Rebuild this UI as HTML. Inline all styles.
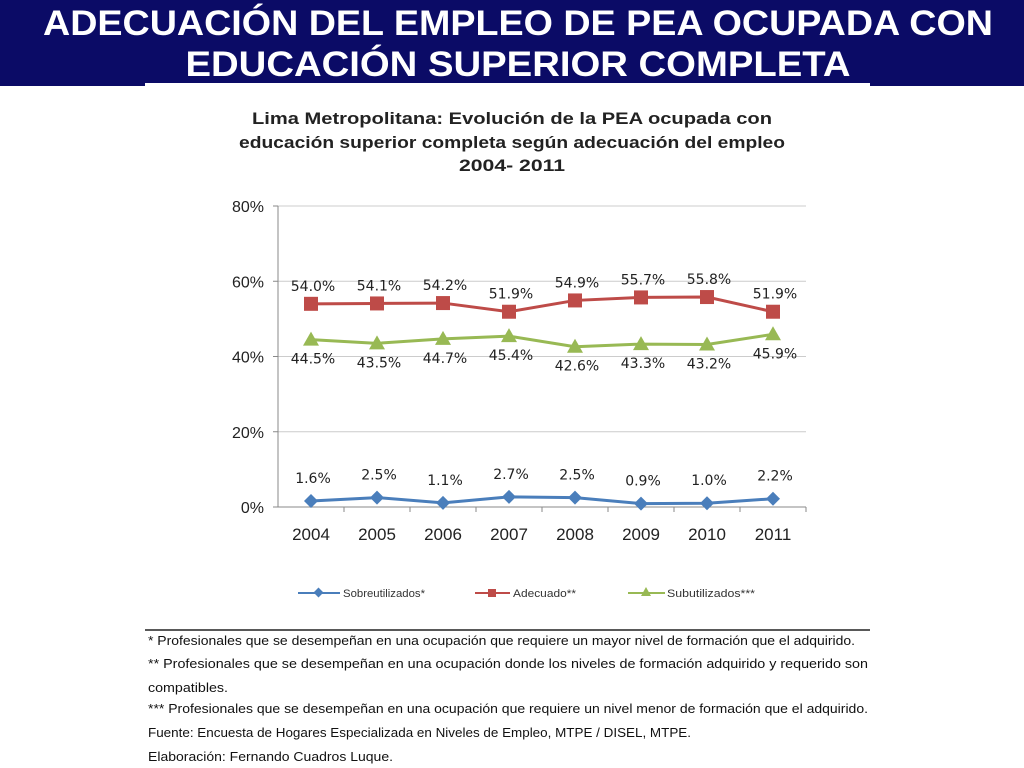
<!DOCTYPE html>
<html><head><meta charset="utf-8"><style>
body{margin:0;width:1024px;height:768px;background:#fff;overflow:hidden;font-family:"Liberation Sans",sans-serif}
svg{position:absolute;left:0;top:0}
</style></head><body>
<svg width="1024" height="768">
<rect x="0" y="0" width="1024" height="86" fill="#0b0b66"/>
<rect x="145" y="83" width="725" height="5" fill="#fff"/>
<g fill="#fff" font-weight="bold" font-size="35" text-anchor="middle">
<text x="518" y="35" textLength="950" lengthAdjust="spacingAndGlyphs">ADECUACIÓN DEL EMPLEO DE PEA OCUPADA CON</text>
<text x="518" y="76" textLength="665" lengthAdjust="spacingAndGlyphs">EDUCACIÓN SUPERIOR COMPLETA</text>
</g>
<g fill="#222" font-weight="bold" font-size="17" text-anchor="middle">
<text x="512" y="124" textLength="520" lengthAdjust="spacingAndGlyphs">Lima Metropolitana: Evolución de la PEA ocupada con</text>
<text x="512" y="148" textLength="546" lengthAdjust="spacingAndGlyphs">educación superior completa según adecuación del empleo</text>
<text x="512" y="171" textLength="106" lengthAdjust="spacingAndGlyphs">2004- 2011</text>
</g>
<g id="chart"></g>
<g font-size="11" fill="#333">
<line x1="298" y1="593" x2="340" y2="593" stroke="#4a7ebb" stroke-width="2"/><rect x="315" y="589" width="7" height="7" fill="#4a7ebb" transform="rotate(45 318.5 592.5)"/>
<text x="343" y="597" textLength="82" lengthAdjust="spacingAndGlyphs">Sobreutilizados*</text>
<line x1="475" y1="593" x2="510" y2="593" stroke="#be4b48" stroke-width="2"/><rect x="488" y="589" width="8" height="8" fill="#be4b48"/>
<text x="513" y="597" textLength="63" lengthAdjust="spacingAndGlyphs">Adecuado**</text>
<line x1="628" y1="593" x2="665" y2="593" stroke="#98b954" stroke-width="2"/><polygon points="646,587 651,596 641,596" fill="#98b954"/>
<text x="667" y="597" textLength="88" lengthAdjust="spacingAndGlyphs">Subutilizados***</text>
</g>
<line x1="145" y1="630" x2="870" y2="630" stroke="#222" stroke-width="1.5"/>
<g font-size="13" fill="#111">
<text x="148" y="645" textLength="707" lengthAdjust="spacingAndGlyphs">* Profesionales que se desempeñan en una ocupación que requiere un mayor nivel de formación que el adquirido.</text>
<text x="148" y="668" textLength="720" lengthAdjust="spacingAndGlyphs">** Profesionales que se desempeñan en una ocupación donde los niveles de formación adquirido y requerido son</text>
<text x="148" y="692" textLength="80" lengthAdjust="spacingAndGlyphs">compatibles.</text>
<text x="148" y="713" textLength="720" lengthAdjust="spacingAndGlyphs">*** Profesionales que se desempeñan en una ocupación que requiere un nivel menor de formación que el adquirido.</text>
<text x="148" y="737" textLength="543" lengthAdjust="spacingAndGlyphs">Fuente: Encuesta de Hogares Especializada en Niveles de Empleo, MTPE / DISEL, MTPE.</text>
<text x="148" y="761" textLength="245" lengthAdjust="spacingAndGlyphs">Elaboración: Fernando Cuadros Luque.</text>
</g>
</svg>
<script>
const years=["2004","2005","2006","2007","2008","2009","2010","2011"];
const sobre=[1.6,2.5,1.1,2.7,2.5,0.9,1.0,2.2];
const adecuado=[54.0,54.1,54.2,51.9,54.9,55.7,55.8,51.9];
const subutil=[44.5,43.5,44.7,45.4,42.6,43.3,43.2,45.9];
const yTicks=[0,20,40,60,80];
const L=278,R=806,T=206,B=507,ymax=80;
const xs=i=>L+(R-L)/years.length*(i+0.5);
const ys=v=>B-(B-T)*v/ymax;
const NS="http://www.w3.org/2000/svg";
const g=document.getElementById('chart');
function mk(t,a,p){const e=document.createElementNS(NS,t);for(const k in a)e.setAttribute(k,a[k]);(p||g).appendChild(e);return e;}
yTicks.forEach(v=>{
 const l=mk('line',{x1:L,x2:R,y1:ys(v),y2:ys(v),stroke:v==0?'#888':'#ccc','stroke-width':1});
 
 
 const t=mk('text',{x:L-14,y:ys(v)+6,'text-anchor':'end','font-size':16,fill:'#222'});t.textContent=v+'%';
 
 
 mk('line',{x1:L-5,x2:L,y1:ys(v),y2:ys(v),stroke:'#888'});
});
const ax=mk('line',{x1:L,x2:L,y1:T,y2:B,stroke:'#888'});


years.forEach((y,i)=>{
 mk('line',{x1:L+(R-L)/years.length*(i+1),x2:L+(R-L)/years.length*(i+1),y1:B,y2:B+5,stroke:'#888'});
 const t=mk('text',{x:xs(i),y:B+33,'text-anchor':'middle','font-size':17,fill:'#222'});t.textContent=y;
 
 
});
function series(arr,color,shape,off,name){
 const pl=mk('polyline',{points:arr.map((v,i)=>xs(i)+','+ys(v)).join(' '),fill:'none',stroke:color,'stroke-width':3});
 
 
 arr.forEach((v,i)=>{
  const x=xs(i),y=ys(v);let m;
  if(shape=='sq')m=mk('rect',{x:x-7,y:y-7,width:14,height:14,fill:color});
  else if(shape=='tri')m=mk('polygon',{points:`${x},${y-8} ${x+8},${y+6} ${x-8},${y+6}`,fill:color});
  else m=mk('polygon',{points:`${x},${y-7} ${x+7},${y} ${x},${y+7} ${x-7},${y}`,fill:color});
  
  
  const t=mk('text',{x:x+2,y:y+off,'text-anchor':'middle','font-size':14,fill:'#222','font-family':'DejaVu Sans, sans-serif'});t.textContent=v.toFixed(1)+'%';
  
  
 });
}
series(sobre,'#4a7ebb','dia',-18,'sobreutilizados');
series(adecuado,'#be4b48','sq',-13,'adecuado');
series(subutil,'#98b954','tri',24,'subutilizados');
</script>
</body></html>
